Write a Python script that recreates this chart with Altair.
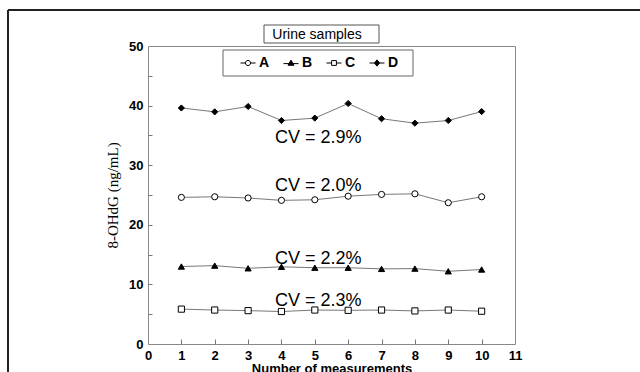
import altair as alt
import pandas as pd

# ---- data ----
x_vals = list(range(1, 11))
series_names = ["A", "B", "C", "D"]
vals_A = [24.6, 24.7, 24.5, 24.1, 24.2, 24.8, 25.1, 25.2, 23.7, 24.7]
vals_B = [13.0, 13.15, 12.7, 12.95, 12.8, 12.8, 12.6, 12.65, 12.2, 12.5]
vals_C = [5.85, 5.7, 5.6, 5.45, 5.7, 5.65, 5.7, 5.55, 5.7, 5.5]
vals_D = [39.6, 38.95, 39.85, 37.5, 37.9, 40.35, 37.8, 37.05, 37.5, 39.0]

cv_labels = ["CV = 2.9%", "CV = 2.0%", "CV = 2.2%", "CV = 2.3%"]
cv_x = [5.1, 5.1, 5.1, 5.1]
cv_y = [33.8, 25.7, 13.4, 6.4]   # text baselines

title_text = "Urine samples"

x_tick_labels = list(range(0, 12))
x_tick_marks = list(range(1, 11))
y_tick_labels = [0, 10, 20, 30, 40, 50]
y_tick_marks = [5, 10, 15, 20, 25, 30, 35, 40, 45]

# ---- styling ----
SANS = "Liberation Sans"
SERIF = "Liberation Serif"
W, H = 367, 298
PAD_L, PAD_T = 148, 46

plain_shapes = ["circle", "triangle-up", "square", "diamond"]
fills = ["white", "black", "white", "black"]
legend_shapes = [
    "M-1,0H-0.36M0.36,0H1M0.34,0A0.34,0.34 0 1,1 -0.34,0A0.34,0.34 0 1,1 0.34,0Z",
    "M-1,0.08H1M0,-0.38L0.4,0.3L-0.4,0.3Z",
    "M-1,0H-0.32M0.32,0H1M-0.32,-0.32H0.32V0.32H-0.32Z",
    "M-1,0H1M0,-0.42L0.34,0L0,0.42L-0.34,0Z",
]

df = pd.DataFrame({
    "measurement": x_vals * 4,
    "value": vals_A + vals_B + vals_C + vals_D,
    "series": sum([[s] * len(x_vals) for s in series_names], []),
})
cv_df = pd.DataFrame({"label": cv_labels, "x": cv_x, "y": cv_y})
one = pd.DataFrame({"k": [0]})
title_df = pd.DataFrame({"t": [title_text]})

xscale = alt.Scale(domain=[0, 11], nice=False, zero=False)
yscale = alt.Scale(domain=[0, 50], nice=False)

main_x_axis = alt.Axis(
    values=x_tick_labels, ticks=False, tickSize=0, domain=False, grid=False,
    labelFont=SANS, labelFontSize=13, labelFontWeight="bold", labelColor="black",
    labelPadding=5, labelFlush=False, labelOverlap=False,
    title="Number of measurements", titleFont=SANS, titleFontSize=13,
    titleFontWeight="bold", titleColor="black", titlePadding=0, orient="bottom",
)
main_y_axis = alt.Axis(
    values=y_tick_labels, ticks=False, tickSize=0, domain=False, grid=False,
    labelFont=SANS, labelFontSize=13, labelFontWeight="bold", labelColor="black",
    labelPadding=5, labelFlush=False, labelOverlap=False,
    title="8-OHdG (ng/mL)", titleFont=SERIF, titleFontSize=15,
    titleFontWeight="normal", titleColor="black", titlePadding=8, orient="left",
)
tick_x_axis = alt.Axis(
    orient="bottom", values=x_tick_marks, offset=-5, tickSize=5, ticks=True,
    labels=False, domain=False, grid=False, title=None, tickColor="#777", tickWidth=1,
)
tick_y_axis = alt.Axis(
    orient="left", values=y_tick_marks, offset=-4, tickSize=4, ticks=True,
    labels=False, domain=False, grid=False, title=None, tickColor="#777", tickWidth=1,
)

base = alt.Chart(df)

lines = base.mark_line(color="#777", strokeWidth=1).encode(
    x=alt.X("measurement:Q", scale=xscale, axis=main_x_axis),
    y=alt.Y("value:Q", scale=yscale, axis=main_y_axis),
    detail="series:N",
)

points = base.mark_point(size=38, stroke="black", strokeWidth=1, opacity=1).encode(
    x=alt.X("measurement:Q", scale=xscale, axis=tick_x_axis),
    y=alt.Y("value:Q", scale=yscale, axis=tick_y_axis),
    shape=alt.Shape("series:N", scale=alt.Scale(domain=series_names, range=plain_shapes), legend=None),
    fill=alt.Fill("series:N", scale=alt.Scale(domain=series_names, range=fills), legend=None),
)

leg = dict(
    orient="none", legendX=92, legendY=9, direction="horizontal", columns=4,
    title=None, labelFont=SANS, labelFontSize=14, labelFontWeight="bold",
    labelColor="black", symbolSize=225, symbolStrokeWidth=1,
    symbolStrokeColor="black", symbolFillColor="white", symbolOpacity=1,
    columnPadding=11, labelOffset=3, padding=0,
)
legend_layer = base.mark_point(opacity=0, stroke="black").encode(
    x=alt.X("measurement:Q", scale=xscale, axis=None),
    y=alt.Y("value:Q", scale=yscale, axis=None),
    shape=alt.Shape("series:N", scale=alt.Scale(domain=series_names, range=legend_shapes),
                    legend=alt.Legend(**leg)),
    fill=alt.Fill("series:N", scale=alt.Scale(domain=series_names, range=fills),
                  legend=alt.Legend(**leg)),
)

cv_text = alt.Chart(cv_df).mark_text(font=SANS, fontSize=18, color="black",
                                     baseline="alphabetic").encode(
    x=alt.X("x:Q", scale=xscale, axis=None),
    y=alt.Y("y:Q", scale=yscale, axis=None),
    text="label:N",
)

# decorations: outer frame, title box, legend box
frame_top = alt.Chart(one).mark_rule(color="#222", strokeWidth=2).encode(
    x=alt.value(-PAD_L + 8), x2=alt.value(640 - PAD_L), y=alt.value(-PAD_T + 10))
frame_left = alt.Chart(one).mark_rule(color="#222", strokeWidth=2).encode(
    x=alt.value(-PAD_L + 8), y=alt.value(-PAD_T + 10), y2=alt.value(372 - PAD_T))
title_box = alt.Chart(one).mark_rect(fill="white", stroke="#555", strokeWidth=1).encode(
    x=alt.value(264 - PAD_L), x2=alt.value(379 - PAD_L),
    y=alt.value(25 - PAD_T), y2=alt.value(43 - PAD_T))
title_mark = alt.Chart(title_df).mark_text(font=SANS, fontSize=14, color="black",
                                           align="center", baseline="alphabetic").encode(
    x=alt.value(317 - PAD_L), y=alt.value(39 - PAD_T), text="t:N")
legend_box = alt.Chart(one).mark_rect(fill="white", stroke="#666", strokeWidth=1).encode(
    x=alt.value(223 - PAD_L), x2=alt.value(413 - PAD_L),
    y=alt.value(50 - PAD_T), y2=alt.value(76 - PAD_T))

chart = alt.layer(
    frame_top, frame_left, title_box, title_mark, legend_box,
    lines, points, legend_layer, cv_text
).resolve_scale(
    shape="independent", fill="independent"
).resolve_axis(
    x="independent", y="independent"
).properties(
    width=W, height=H,
    padding={"left": PAD_L, "top": PAD_T, "right": 640 - PAD_L - W, "bottom": 372 - PAD_T - H},
    autosize=alt.AutoSizeParams(type="none"),
    background="white",
).configure_view(stroke="#888", strokeWidth=1)

chart.save("out.html", embed_options={"renderer": "svg", "actions": False})
